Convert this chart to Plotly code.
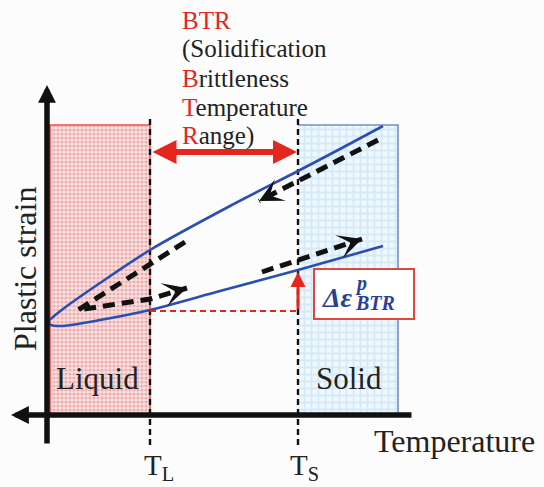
import plotly.graph_objects as go

# ---- data (temperature on x, plastic strain on y, arbitrary units) ----
T_L = 103.0          # liquidus temperature
T_S = 251.0          # solidus temperature
region_top = 290.0   # upper edge of the liquid / solid bands

# closed loop of plastic strain (upper branch: cooling, lower branch: heating)
loop_temp = [336, 293, 251, 183, 103, 53, 20, 6, 1, 4, 14, 53, 103, 173, 251, 336]
loop_strain = [289, 266, 244, 209, 165, 132, 109, 98, 93, 90, 89, 95, 105, 124, 145, 169]

# dashed loading paths
cool_temp = [331, 212]
cool_strain = [275, 214]
turn_temp = [138, 31, 103, 140]
turn_strain = [173, 105, 116, 127]
heat_temp = [215, 315]
heat_strain = [143, 176]

# strain accumulated inside the BTR
btr_low = 104.0
btr_high = 143.0
btr_arrow_level = 263.0

RED = "#e5261f"
BLUE = "#2a4fb0"
BLACK = "#111111"
SERIF = "Liberation Serif, Times New Roman, serif"
INK = "#222222"

fig = go.Figure()

# liquid band
liq_x = [3, T_L, T_L, 3, 3]
liq_y = [0, 0, region_top, region_top, 0]
fig.add_trace(go.Scatter(
    x=liq_x, y=liq_y, mode="lines", fill="toself",
    line=dict(color="rgba(0,0,0,0)", width=0),
    fillcolor="#f8d6d6",
    fillpattern=dict(shape=".", fgcolor="#e07b7b", bgcolor="#fae0e0",
                     size=4, solidity=0.5),
    hoverinfo="skip", showlegend=False))
fig.add_trace(go.Scatter(
    x=[3, 3, T_L, T_L], y=[0, region_top, region_top, 0], mode="lines",
    line=dict(color="#e8584f", width=1.6), hoverinfo="skip", showlegend=False))

# solid band
sol_right = 351
sol_x = [T_S, sol_right, sol_right, T_S, T_S]
sol_y = [0, 0, region_top, region_top, 0]
fig.add_trace(go.Scatter(
    x=sol_x, y=sol_y, mode="lines", fill="toself",
    line=dict(color="rgba(0,0,0,0)", width=0),
    fillcolor="#e4f1fb",
    fillpattern=dict(shape="+", fgcolor="#b8dcf4", bgcolor="#f1f8fd",
                     size=7, solidity=0.45),
    hoverinfo="skip", showlegend=False))
fig.add_trace(go.Scatter(
    x=[T_S, sol_right, sol_right, sol_right], y=[region_top, region_top, region_top, 0],
    mode="lines", line=dict(color="#6f8fd0", width=1.6),
    hoverinfo="skip", showlegend=False))

# T_L / T_S markers
for t in (T_L, T_S):
    fig.add_trace(go.Scatter(
        x=[t, t], y=[-30, 297], mode="lines",
        line=dict(color=BLACK, width=2.4, dash="6px,4px"),
        hoverinfo="skip", showlegend=False))

# strain loop
fig.add_trace(go.Scatter(
    x=loop_temp, y=loop_strain, mode="lines",
    line=dict(color=BLUE, width=2.6, shape="spline", smoothing=0.8),
    hoverinfo="skip", showlegend=False))

# dashed loading paths
for xs, ys in ((cool_temp, cool_strain), (turn_temp, turn_strain),
               (heat_temp, heat_strain)):
    fig.add_trace(go.Scatter(
        x=xs, y=ys, mode="lines",
        line=dict(color=BLACK, width=5, dash="12px,7px"),
        hoverinfo="skip", showlegend=False))

# red dashed level
fig.add_trace(go.Scatter(
    x=[T_L, T_S], y=[btr_low, btr_low], mode="lines",
    line=dict(color=RED, width=2, dash="6px,4px"),
    hoverinfo="skip", showlegend=False))

# Δε box
fig.add_shape(type="rect", xref="x", yref="y", x0=267, x1=367, y0=96, y1=146,
              line=dict(color="#e0463c", width=2), fillcolor="white")

ann = []


def head(xs, ys, width=4, size=1.0, style=3, color=BLACK):
    # arrow head at the end of a path, aligned with its last segment
    x1, y1 = xs[-1], ys[-1]
    x0, y0 = xs[-2], ys[-2]
    dx, dy = x1 - x0, y1 - y0
    n = (dx * dx + dy * dy) ** 0.5
    ann.append(dict(x=x1, y=y1, ax=x1 - dx / n * 8, ay=y1 - dy / n * 8,
                    xref="x", yref="y", axref="x", ayref="y", text="",
                    showarrow=True, arrowhead=style, arrowsize=size,
                    arrowwidth=width, arrowcolor=color, standoff=0))


head(cool_temp, cool_strain)
head(turn_temp, turn_strain)
head(heat_temp, heat_strain)

# axes drawn as thick arrows
ann.append(dict(x=0, y=330, ax=0, ay=-30, xref="x", yref="y", axref="x", ayref="y",
                text="", showarrow=True, arrowhead=2, arrowsize=0.65, arrowwidth=5.5,
                arrowcolor=BLACK, standoff=0))
ann.append(dict(x=-36, y=0, ax=366, ay=0, xref="x", yref="y", axref="x", ayref="y",
                text="", showarrow=True, arrowhead=2, arrowsize=0.65, arrowwidth=5.5,
                arrowcolor=BLACK, standoff=0))

# BTR double arrow
ann.append(dict(x=T_S - 1, y=btr_arrow_level, ax=T_L + 1, ay=btr_arrow_level,
                xref="x", yref="y", axref="x", ayref="y", text="", showarrow=True,
                arrowhead=2, startarrowhead=2, arrowside="end+start",
                arrowsize=0.8, startarrowsize=0.8, arrowwidth=6, arrowcolor=RED,
                standoff=0, startstandoff=0))

# accumulated strain arrow
ann.append(dict(x=T_S, y=btr_high, ax=T_S, ay=btr_low, xref="x", yref="y",
                axref="x", ayref="y", text="", showarrow=True, arrowhead=2,
                arrowsize=1.0, arrowwidth=3, arrowcolor=RED, standoff=0))

# BTR text block (initials in red)
SPAN_RED = "<span style='color:%s;font-family:Liberation Serif'>%%s</span>" % RED
SPAN_INK = "<span style='font-family:Liberation Serif'>%s</span>"
btr_lines = [
    SPAN_RED % "BTR",
    SPAN_INK % "(Solidification",
    SPAN_RED % "B" + SPAN_INK % "rittleness",
    SPAN_RED % "T" + SPAN_INK % "emperature",
    SPAN_RED % "R" + SPAN_INK % "ange)",
]
for i, line in enumerate(btr_lines):
    ann.append(dict(x=133, y=395 - 29 * i, xref="x", yref="y", text=line,
                    showarrow=False, xanchor="left", yanchor="middle",
                    font=dict(family=SERIF, size=25, color=INK)))

ann.append(dict(x=50, y=37, xref="x", yref="y", text="Liquid", showarrow=False,
                font=dict(family=SERIF, size=31, color=INK)))
ann.append(dict(x=302, y=37, xref="x", yref="y", text="Solid", showarrow=False,
                font=dict(family=SERIF, size=31, color=INK)))
ann.append(dict(x=407, y=-26, xref="x", yref="y", text="Temperature", showarrow=False,
                font=dict(family=SERIF, size=32, color=INK)))
ann.append(dict(x=-22, y=146, xref="x", yref="y", text="Plastic strain", showarrow=False,
                textangle=-90, font=dict(family=SERIF, size=32, color=INK)))
ann.append(dict(x=T_L - 8, y=-52, xref="x", yref="y", text="T<sub>L</sub>",
                showarrow=False, xanchor="left",
                font=dict(family=SERIF, size=29, color=INK)))
ann.append(dict(x=T_S - 10, y=-52, xref="x", yref="y", text="T<sub>S</sub>",
                showarrow=False, xanchor="left",
                font=dict(family=SERIF, size=29, color=INK)))

# Δε^p_BTR label
EPS_BLUE = "#2b3f98"
ann.append(dict(x=290, y=118, xref="x", yref="y", text="<b><i>Δε</i></b>",
                showarrow=False, font=dict(family=SERIF, size=28, color=EPS_BLUE)))
ann.append(dict(x=306, y=132, xref="x", yref="y", text="<b><i>p</i></b>",
                showarrow=False, xanchor="left",
                font=dict(family=SERIF, size=20, color=EPS_BLUE)))
ann.append(dict(x=306, y=112, xref="x", yref="y", text="<b><i>BTR</i></b>",
                showarrow=False, xanchor="left",
                font=dict(family=SERIF, size=20, color=EPS_BLUE)))

fig.update_layout(
    width=544, height=487, autosize=False,
    margin=dict(l=0, r=0, t=0, b=0),
    paper_bgcolor="#fcfcfc", plot_bgcolor="#fcfcfc",
    xaxis=dict(range=[-47, 497], visible=False, fixedrange=True),
    yaxis=dict(range=[-72, 415], visible=False, fixedrange=True),
    annotations=ann, showlegend=False,
)

fig.write_html("out.html")
